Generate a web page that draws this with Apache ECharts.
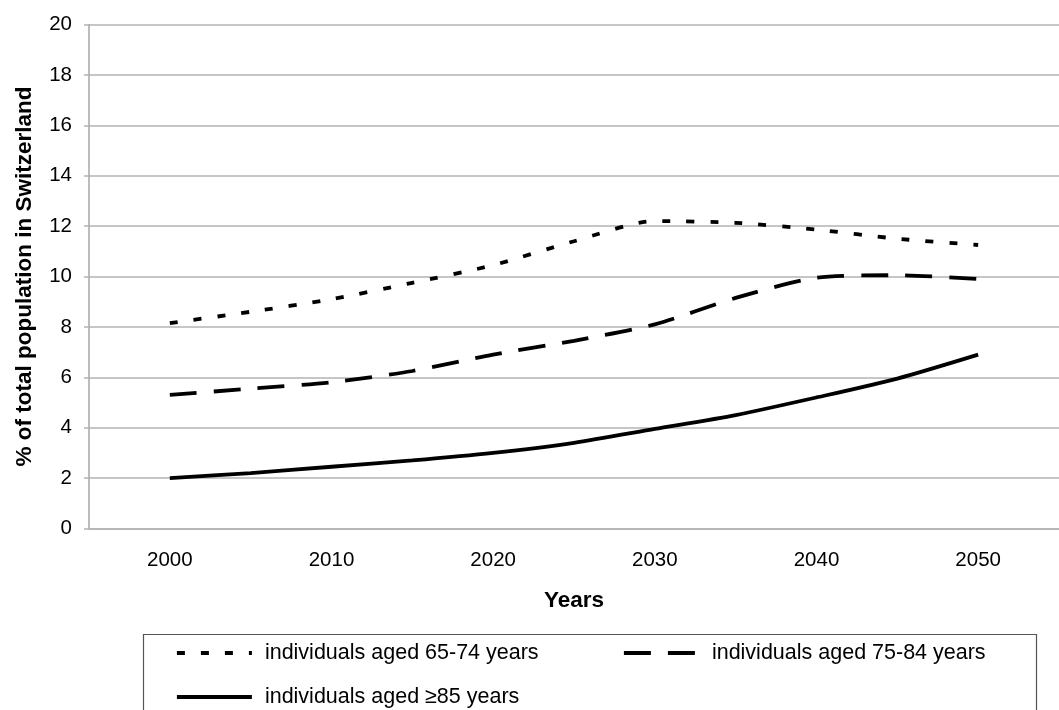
<!DOCTYPE html>
<html>
<head>
<meta charset="utf-8">
<script src="https://cdn.jsdelivr.net/npm/echarts@6/dist/echarts.min.js"></script>
<style>
  html, body { margin: 0; padding: 0; background: #ffffff; }
  #chart { width: 1059px; height: 710px; }
</style>
</head>
<body>
<div id="chart"></div>
<script>
// Projected share of the Swiss population by age group (%)
const years = [2000, 2005, 2010, 2015, 2020, 2025, 2030, 2035, 2040, 2045, 2050];
const aged65to74 = [8.15, 8.6, 9.1, 9.75, 10.45, 11.4, 12.2, 12.13, 11.86, 11.5, 11.25];
const aged75to84 = [5.3, 5.55, 5.8, 6.25, 6.9, 7.45, 8.1, 9.15, 9.95, 10.05, 9.9];
const aged85plus = [2.0, 2.2, 2.45, 2.7, 3.0, 3.4, 3.95, 4.5, 5.2, 5.95, 6.9];
const yearTicks = [2000, 2010, 2020, 2030, 2040, 2050];

const seriesNames = [
  'individuals aged 65-74 years',
  'individuals aged 75-84 years',
  'individuals aged \u226585 years'
];

const pairs = vals => years.map((y, i) => [y, vals[i]]);
const FONT = '"Liberation Sans", Arial, sans-serif';
const GRID_GRAY = '#b3b3b3';
const LINE_W = 3.8;

function lineSeries(name, vals, dash) {
  return {
    name: name,
    type: 'line',
    data: pairs(vals),
    symbol: 'none',
    smooth: 0.25,
    lineStyle: { color: '#000000', width: LINE_W, type: dash, cap: 'butt' },
    itemStyle: { color: '#000000' },
    z: 3
  };
}

// legend entries show only the line sample, no marker
const legendBase = {
  orient: 'horizontal',
  itemWidth: 75,
  itemHeight: 14,
  itemGap: 0,
  padding: 0,
  itemStyle: { opacity: 0, borderWidth: 0 },
  lineStyle: { width: LINE_W },
  textStyle: { fontFamily: FONT, fontSize: 21.5, color: '#000000', lineHeight: 22, padding: [0, 0, 0, 8] }
};

const chart = echarts.init(document.getElementById('chart'), null, { renderer: 'canvas' });
chart.setOption({
  backgroundColor: '#ffffff',
  animation: false,
  textStyle: { fontFamily: FONT },
  grid: { left: 89, right: -10, top: 24.5, bottom: 181.5, containLabel: false },
  xAxis: {
    type: 'value',
    min: 1995,
    max: 2055,
    name: 'Years',
    nameLocation: 'middle',
    nameGap: 61,
    nameTextStyle: { fontFamily: FONT, fontSize: 22.5, fontWeight: 'bold', color: '#000000' },
    axisLine: { show: true, lineStyle: { color: GRID_GRAY, width: 1.5 } },
    axisTick: { show: false },
    splitLine: { show: false },
    axisLabel: {
      customValues: yearTicks,
      margin: 21,
      fontSize: 20.5,
      color: '#000000',
      fontFamily: FONT,
      formatter: v => String(v)
    }
  },
  yAxis: {
    type: 'value',
    min: 0,
    max: 20,
    interval: 2,
    name: '% of total population in Switzerland',
    nameLocation: 'middle',
    nameGap: 53,
    nameTextStyle: { fontFamily: FONT, fontSize: 22.5, fontWeight: 'bold', color: '#000000' },
    axisLine: { show: true, lineStyle: { color: '#a6a6a6', width: 1.5 } },
    axisTick: { show: true, inside: false, length: 5, lineStyle: { color: GRID_GRAY, width: 1.5 } },
    splitLine: { show: true, lineStyle: { color: GRID_GRAY, width: 1.5 } },
    axisLabel: { margin: 17, fontSize: 20.5, color: '#000000', fontFamily: FONT }
  },
  legend: [
    Object.assign({}, legendBase, { data: [seriesNames[0]], left: 175, top: 642 }),
    Object.assign({}, legendBase, { data: [seriesNames[1]], left: 622, top: 642 }),
    Object.assign({}, legendBase, { data: [seriesNames[2]], left: 175, top: 686 })
  ],
  graphic: [{
    type: 'rect',
    left: 141,
    top: 632,
    shape: { width: 893, height: 110 },
    style: { fill: 'none', stroke: '#555555', lineWidth: 1.2 },
    silent: true,
    z: -1
  }],
  series: [
    lineSeries(seriesNames[0], aged65to74, [8, 16]),
    lineSeries(seriesNames[1], aged75to84, [27, 17]),
    lineSeries(seriesNames[2], aged85plus, 'solid')
  ]
});
</script>
</body>
</html>
